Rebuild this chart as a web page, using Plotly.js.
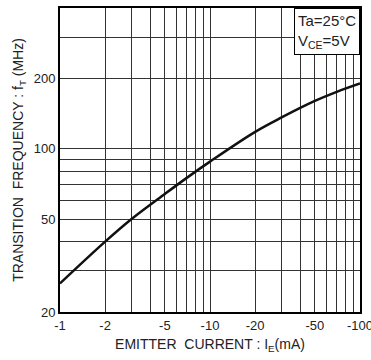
<!DOCTYPE html>
<html><head><meta charset="utf-8">
<script src="https://cdn.plot.ly/plotly-3.0.1.min.js"></script>
<style>html,body{margin:0;padding:0;background:#fff}#c{width:371px;height:360px}</style>
</head><body><div id="c"></div>
<script>
// Emitter current magnitude (mA) and transition frequency (MHz)
const emitterCurrent = [1, 2, 3, 5, 7, 10, 20, 30, 50, 70, 100];
const transitionFreq = [26.5, 40, 50, 64, 75, 88, 118, 136, 160, 175, 190];
const xTickVals = [1, 2, 5, 10, 20, 50, 100];
const xTickText = ["-1", "-2", "-5", "-10", "-20", "-50", "-100"];
const xMinorVals = [3, 4, 6, 7, 8, 9, 30, 40, 60, 70, 80, 90];
const yTickVals = [20, 50, 100, 200];
const yTickText = ["20", "50", "100", "200"];
const yMinorVals = [30, 40, 60, 70, 80, 90, 300];

const font = {family: "Liberation Sans, Arial, sans-serif", color: "#222", size: 13};
const gridc = "#333";

Plotly.newPlot("c", [{
  x: emitterCurrent, y: transitionFreq, mode: "lines",
  line: {color: "#111", width: 2.5, shape: "spline", smoothing: 1}, hoverinfo: "skip"
}], {
  width: 371, height: 360,
  margin: {l: 60, r: 11, t: 8, b: 48},
  paper_bgcolor: "#fff", plot_bgcolor: "#fff",
  showlegend: false, font: font,
  xaxis: {
    type: "log", range: [0, 2], tickvals: xTickVals, ticktext: xTickText,
    showgrid: true, gridcolor: gridc, gridwidth: 1,
    minor: {tickvals: xMinorVals, showgrid: true, gridcolor: gridc, gridwidth: 1, ticks: ""},
    showline: true, linecolor: "#000", linewidth: 2, mirror: true,
    ticks: "", ticklen: 0, tickfont: {size: 13, color: "#222"},
    ticklabeloverflow: "allow",
    zeroline: false, automargin: false,
    title: {text: "EMITTER  CURRENT : I<sub>E</sub>(mA)", font: {size: 14, color: "#222"}, standoff: 8}
  },
  yaxis: {
    type: "log", range: [Math.log10(20), Math.log10(400)], tickvals: yTickVals, ticktext: yTickText,
    showgrid: true, gridcolor: gridc, gridwidth: 1,
    minor: {tickvals: yMinorVals, showgrid: true, gridcolor: gridc, gridwidth: 1, ticks: ""},
    showline: true, linecolor: "#000", linewidth: 2, mirror: true,
    ticks: "", tickfont: {size: 13, color: "#222"},
    zeroline: false, automargin: false,
    title: {text: "TRANSITION  FREQUENCY : f<sub>T</sub> (MHz)", font: {size: 14, color: "#222"}, standoff: 7}
  },
  annotations: [{
    xref: "paper", yref: "paper", x: 1, y: 1, xanchor: "right", yanchor: "top",
    text: "Ta=25°C<br>V<sub>CE</sub>=5V", align: "left", showarrow: false,
    font: {size: 15, color: "#222"}, bgcolor: "#fff", bordercolor: "#000", borderwidth: 1, borderpad: 3
  }]
}, {staticPlot: true, displayModeBar: false});
</script></body></html>
